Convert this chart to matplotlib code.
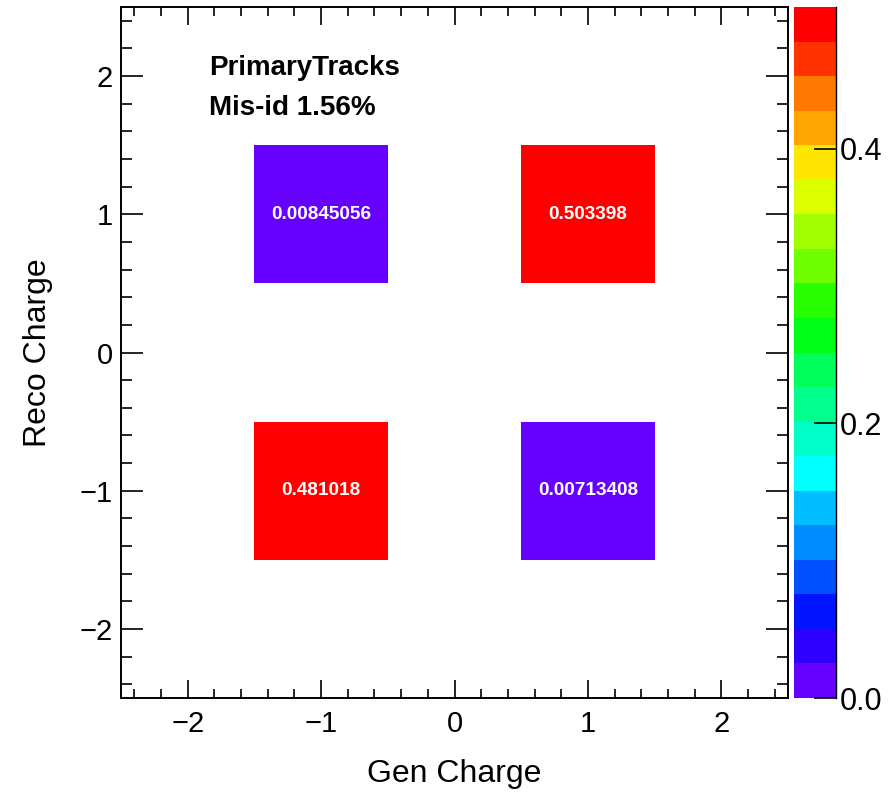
import numpy as np
import matplotlib
matplotlib.use("Agg")
import matplotlib.pyplot as plt
from matplotlib.colors import ListedColormap, BoundaryNorm
from matplotlib.ticker import MultipleLocator, FormatStrFormatter

# Bins de la matrice de charge (5 x 5, de -2.5 a 2.5)
bin_edges = [-2.5, -1.5, -0.5, 0.5, 1.5, 2.5]
gen_charge = [-1, 1, -1, 1]
reco_charge = [1, 1, -1, -1]
fractions = [0.00845056, 0.503398, 0.481018, 0.00713408]
cell_labels = ["0.00845056", "0.503398", "0.481018", "0.00713408"]

titre_1 = "PrimaryTracks"
titre_2 = "Mis-id 1.56%"

# Palette ROOT (20 niveaux, du bas vers le haut)
palette = [
    (102, 0, 255), (45, 0, 255), (0, 20, 255), (0, 80, 255), (0, 140, 255),
    (0, 190, 255), (0, 255, 255), (0, 255, 200), (0, 255, 140), (0, 255, 90),
    (0, 255, 20), (40, 255, 0), (110, 255, 0), (160, 255, 0), (220, 255, 0),
    (255, 230, 0), (255, 165, 0), (255, 120, 0), (255, 50, 0), (255, 0, 0),
]
cbar_ticks = [0.0, 0.2, 0.4]

plt.rcParams["font.family"] = ["Liberation Sans", "DejaVu Sans"]

W, H = 896, 794
fig = plt.figure(figsize=(W / 100, H / 100), dpi=100)
ax = fig.add_axes([121 / W, (H - 698) / H, 667 / W, 691 / H])
cax = fig.add_axes([794 / W, (H - 698) / H, 42 / W, 691 / H])

# Remplissage de l'histogramme 2D
edges = np.array(bin_edges)
centres = (edges[:-1] + edges[1:]) / 2
z = np.zeros((len(centres), len(centres)))
for gx, ry, v in zip(gen_charge, reco_charge, fractions):
    i = int(np.argmin(np.abs(centres - ry)))
    j = int(np.argmin(np.abs(centres - gx)))
    z[i, j] = v
z = np.ma.masked_equal(z, 0)

vmax = max(fractions)
cmap = ListedColormap([tuple(c / 255 for c in rgb) for rgb in palette])
levels = np.linspace(0, vmax, len(palette) + 1)
norm = BoundaryNorm(levels, cmap.N)

mesh = ax.pcolormesh(edges, edges, z, cmap=cmap, norm=norm)

# Valeurs dans les cases
for gx, ry, txt in zip(gen_charge, reco_charge, cell_labels):
    ax.text(gx, ry, txt, color="white", fontsize=13.7, fontweight="bold",
            ha="center", va="center")

# Titre dans le cadre
ax.text(-1.84, 2.06, titre_1, fontsize=20, fontweight="bold", va="center")
ax.text(-1.84, 1.77, titre_2, fontsize=20, fontweight="bold", va="center")

ax.set_xlim(-2.5, 2.5)
ax.set_ylim(-2.5, 2.5)
for axis in (ax.xaxis, ax.yaxis):
    axis.set_major_locator(MultipleLocator(1))
    axis.set_minor_locator(MultipleLocator(0.2))
ax.tick_params(which="both", direction="in", top=True, right=True,
               labelsize=21, width=1.2)
ax.tick_params(axis="x", which="major", length=13, pad=9)
ax.tick_params(axis="x", which="minor", length=6.5)
ax.tick_params(axis="y", which="major", length=16, pad=6)
ax.tick_params(axis="y", which="minor", length=8)
for s in ax.spines.values():
    s.set_linewidth(1.4)

ax.set_xlabel("Gen Charge", fontsize=23, labelpad=15)
ax.set_ylabel("Reco Charge", fontsize=23, labelpad=19)

# Barre de couleur
cb = fig.colorbar(mesh, cax=cax, ticks=cbar_ticks)
cb.outline.set_visible(False)
cax.spines["right"].set_visible(True)
cax.spines["right"].set_linewidth(1.0)
cax.yaxis.set_major_formatter(FormatStrFormatter("%.1f"))
cax.tick_params(direction="in", length=16, width=1.2, labelsize=22, pad=3)
cax.minorticks_off()

fig.savefig("out.png", dpi=100)
